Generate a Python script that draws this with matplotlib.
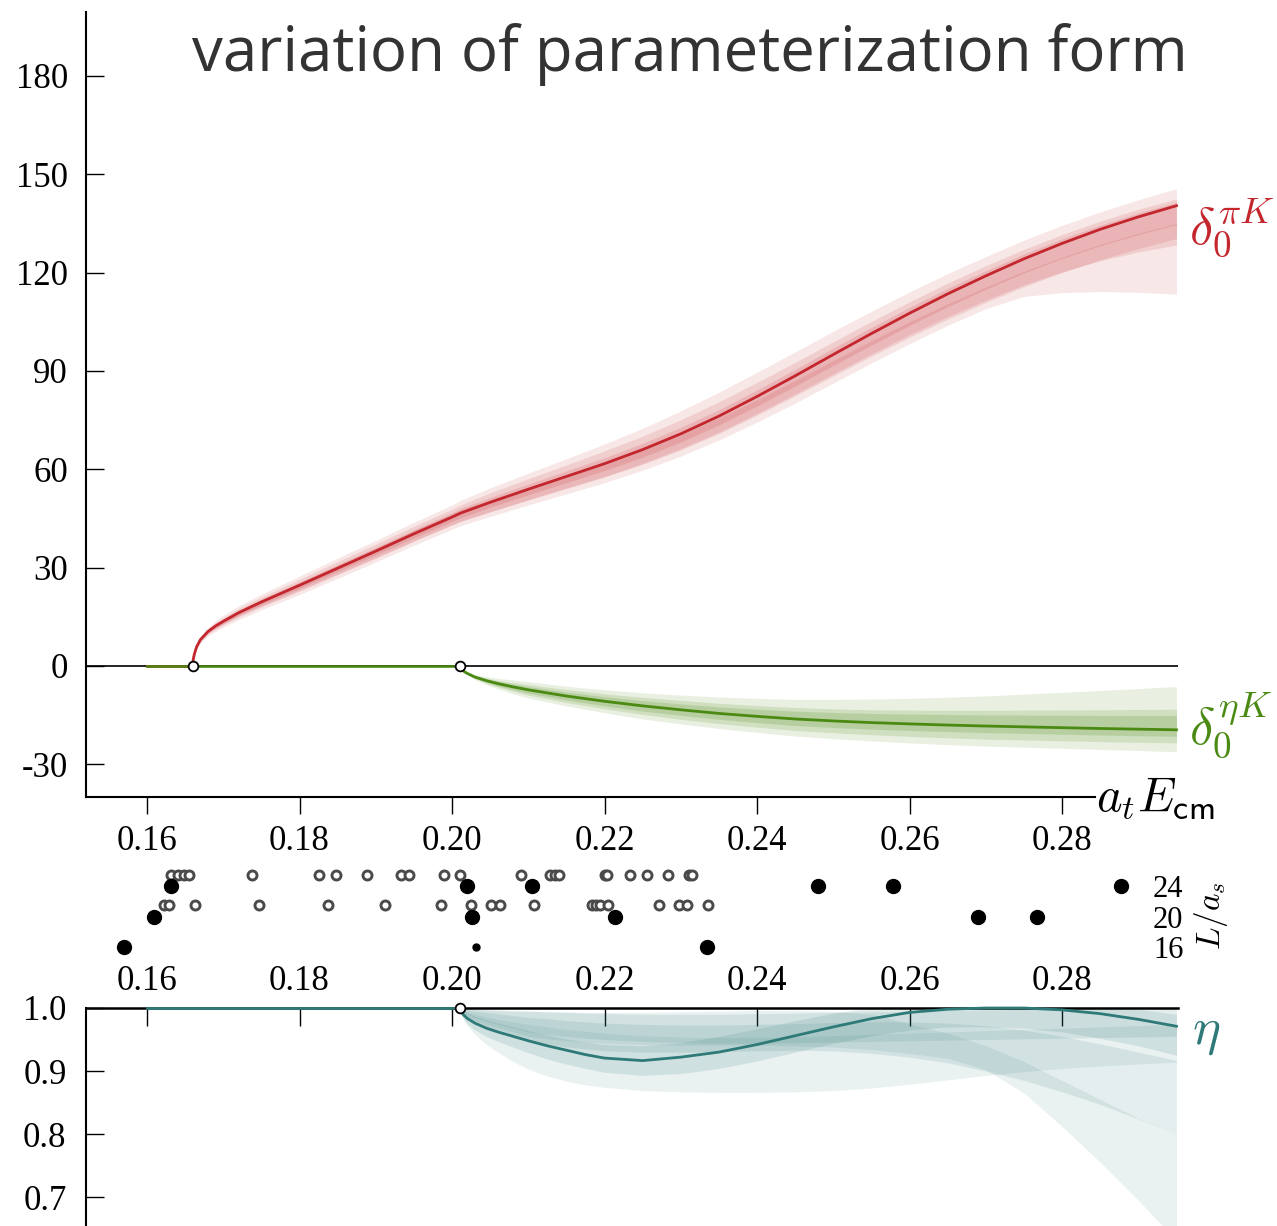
import numpy as np
import matplotlib
matplotlib.use("Agg")
import matplotlib.pyplot as plt
from matplotlib.ticker import FixedLocator, FuncFormatter

plt.rcParams["mathtext.fontset"] = "cm"
plt.rcParams["axes.unicode_minus"] = False

# ---------------- data ----------------
X_TICKS = [0.16, 0.18, 0.20, 0.22, 0.24, 0.26, 0.28]
Y_TICKS_TOP = [-30, 0, 30, 60, 90, 120, 150, 180]
Y_TICKS_ETA = [0.7, 0.8, 0.9, 1.0]
L_TICKS = [16, 20, 24]

X_START = 0.16
PIK_THRESHOLD = 0.1660
ETAK_THRESHOLD = 0.2011

# delta_0^{piK}: central curve and band offsets (lower, upper) for four parameterizations
PIK_X = [0.1660, 0.16605, 0.1662, 0.1665, 0.167, 0.168, 0.169, 0.170, 0.172, 0.175, 0.180,
         0.185, 0.19, 0.195, 0.2, 0.2011, 0.205, 0.21, 0.215, 0.22, 0.225, 0.23, 0.235,
         0.24, 0.245, 0.25, 0.255, 0.26, 0.265, 0.27, 0.275, 0.28, 0.285, 0.29, 0.295]
PIK_MID = [0, 1.8, 3.5, 5.8, 8, 10.5, 12.2, 13.6, 16.2, 19.5, 24.6,
           29.8, 35.0, 40.3, 45.4, 46.6, 49.9, 53.9, 57.8, 61.7, 66.0, 70.8, 76.2,
           82.2, 88.5, 95.0, 101.4, 107.6, 113.5, 119.0, 124.2, 128.9, 133.2, 137.0, 140.4]
PIK_B1_LO = [0, -0.3, -0.5, -0.8, -1, -1.3, -1.6, -1.8, -2.1, -2.4, -2.8, -3.1, -3.3, -3.5, -3.7,
             -3.8, -4.3, -4.8, -5.3, -5.8, -6.3, -6.8, -7.3, -7.8, -8.3, -8.7, -9, -9.3, -9.6, -10,
             -11.5, -15, -19, -23, -27]
PIK_B1_HI = [0, 0.3, 0.5, 0.8, 1, 1.3, 1.6, 1.8, 2.1, 2.4, 2.8, 3.1, 3.3, 3.5, 3.7,
             3.9, 4.4, 4.9, 5.4, 6, 6.5, 7, 7.3, 7.4, 7.3, 7.1, 6.8, 6.5, 6.2, 5.9,
             5.7, 5.5, 5.3, 5.2, 5.2]
PIK_B2_LO = [0, -0.2, -0.3, -0.5, -0.6, -0.8, -1, -1.1, -1.3, -1.5, -1.8, -2, -2.2, -2.3, -2.4,
             -2.5, -2.9, -3.2, -3.5, -3.9, -4.2, -4.5, -4.9, -5.2, -5.5, -5.9, -6.2, -6.5, -6.9, -7.4,
             -7.9, -8.7, -9.6, -10.7, -12]
PIK_B2_HI = [0, 0.2, 0.3, 0.5, 0.6, 0.8, 1, 1.1, 1.3, 1.5, 1.8, 2, 2.2, 2.3, 2.4,
             2.5, 2.9, 3.2, 3.5, 3.9, 4.1, 4.3, 4.4, 4.3, 4.1, 3.9, 3.7, 3.5, 3.3, 3.1,
             2.9, 2.7, 2.5, 2.3, 2.1]
PIK_B3_LO = [0, -0.1, -0.2, -0.3, -0.4, -0.6, -0.7, -0.8, -1, -1.2, -1.5, -1.7, -1.9, -2.1, -2.3,
             -2.5, -2.9, -3.3, -3.7, -4.1, -4.5, -4.9, -5.3, -5.7, -6.1, -6.5, -6.9, -7.3, -7.7, -8.1,
             -8.5, -8.9, -9.3, -9.7, -10]
PIK_B3_HI = [0, 0.1, 0.2, 0.3, 0.4, 0.5, 0.6, 0.6, 0.7, 0.8, 0.9, 1, 1, 1, 1,
             1, 0.8, 0.6, 0.4, 0.2, 0, -0.3, -0.6, -1, -1.4, -1.8, -2.2, -2.6, -3, -3.4,
             -3.8, -4.2, -4.6, -5, -5.4]
PIK_B4_LO = [0, -0.1, -0.15, -0.2, -0.3, -0.4, -0.5, -0.6, -0.7, -0.8, -0.9, -1, -1.1, -1.2, -1.3,
             -1.4, -1.5, -1.7, -1.9, -2.1, -2.3, -2.5, -2.7, -2.9, -3.1, -3.3, -3.5, -3.7, -3.9, -4.1,
             -4.3, -4.6, -5, -5.4, -5.8]
PIK_B4_HI = [0, 0.1, 0.15, 0.2, 0.3, 0.4, 0.5, 0.6, 0.7, 0.8, 0.9, 1, 1.1, 1.2, 1.3,
             1.4, 1.5, 1.6, 1.7, 1.8, 1.9, 2, 2, 2, 2, 2, 1.9, 1.8, 1.7, 1.6,
             1.5, 1.4, 1.3, 1.2, 1.1]

# delta_0^{etaK}
ETAK_X = [0.2011, 0.20115, 0.2013, 0.2016, 0.202, 0.203, 0.2045, 0.206, 0.208, 0.21, 0.215,
          0.22, 0.225, 0.23, 0.235, 0.24, 0.245, 0.25, 0.255, 0.26, 0.265, 0.27, 0.275,
          0.28, 0.285, 0.29, 0.295]
ETAK_MID = [0, -0.55, -1.1, -1.75, -2.3, -3.4, -4.5, -5.4, -6.4, -7.3, -9.2,
            -10.8, -12.2, -13.4, -14.5, -15.4, -16.2, -16.8, -17.3, -17.7, -18.05, -18.35, -18.6,
            -18.85, -19.1, -19.3, -19.5]
ETAK_B1_LO = [0, -0.1, -0.2, -0.3, -0.5, -0.8, -1.2, -1.6, -2.1, -2.5, -3, -3.5, -4, -4.3,
              -4.6, -4.9, -5.2, -5.4, -5.6, -5.8, -6, -6.1, -6.2, -6.3, -6.4, -6.5, -6.7]
ETAK_B1_HI = [0, 0.1, 0.2, 0.3, 0.5, 0.8, 1.2, 1.6, 2.1, 2.5, 3, 3.5, 4, 4.5,
              5, 5.5, 6, 6.6, 7.2, 7.8, 8.5, 9.2, 10, 10.8, 11.6, 12.4, 13.2]
ETAK_B2_LO = [0, -0.05, -0.1, -0.2, -0.3, -0.5, -0.8, -1.0, -1.3, -1.6, -2, -2.3, -2.6, -2.9,
              -3.1, -3.3, -3.5, -3.6, -3.7, -3.8, -3.9, -4, -4, -4, -4, -4, -4]
ETAK_B2_HI = [0, 0.05, 0.1, 0.2, 0.3, 0.5, 0.8, 1.0, 1.3, 1.6, 2, 2.3, 2.6, 2.9,
              3.1, 3.3, 3.5, 3.7, 3.9, 4.2, 4.5, 4.8, 5.1, 5.4, 5.7, 6, 6.3]
ETAK_B3_LO = [0, -0.03, -0.06, -0.1, -0.15, -0.3, -0.5, -0.7, -0.85, -1, -1.2, -1.4, -1.6, -1.7,
              -1.8, -1.9, -2, -2, -2, -2, -2, -2, -2, -2, -2, -2, -2]
ETAK_B3_HI = [0, 0.03, 0.06, 0.1, 0.15, 0.3, 0.5, 0.7, 0.85, 1, 1.2, 1.4, 1.6, 1.8,
              2, 2.2, 2.4, 2.6, 2.8, 3, 3.2, 3.4, 3.6, 3.8, 4, 4.2, 4.4]

# inelasticity eta: central curve and absolute bands
ETA_X = [0.2011, 0.20115, 0.2013, 0.2016, 0.202, 0.203, 0.2045, 0.206, 0.208, 0.21, 0.2125,
         0.215, 0.2175, 0.22, 0.225, 0.23, 0.235, 0.24, 0.245, 0.25, 0.255, 0.26, 0.265,
         0.27, 0.275, 0.28, 0.285, 0.29, 0.295]
ETA_MID = [1.0, 0.996, 0.992, 0.988, 0.9835, 0.976, 0.968, 0.962, 0.955, 0.948, 0.940,
           0.933, 0.926, 0.9205, 0.9165, 0.922, 0.930, 0.942, 0.956, 0.970, 0.983, 0.993, 0.998,
           1.0, 1.0, 0.997, 0.991, 0.982, 0.971]
ETA_BA_LO = [1.0, 0.994, 0.988, 0.98, 0.972, 0.958, 0.942, 0.93, 0.915, 0.903, 0.892,
             0.884, 0.878, 0.874, 0.869, 0.867, 0.866, 0.866, 0.867, 0.869, 0.873, 0.879, 0.886,
             0.893, 0.899, 0.904, 0.908, 0.911, 0.914]
ETA_BA_HI = [1.0, 0.999, 0.998, 0.996, 0.994, 0.99, 0.986, 0.982, 0.978, 0.974, 0.97,
             0.966, 0.963, 0.96, 0.956, 0.954, 0.953, 0.953, 0.954, 0.956, 0.958, 0.96, 0.962,
             0.964, 0.966, 0.968, 0.97, 0.972, 0.974]
ETA_BB_LO = [1.0, 0.993, 0.987, 0.981, 0.975, 0.965, 0.955, 0.947, 0.938, 0.929, 0.919,
             0.911, 0.904, 0.898, 0.893, 0.896, 0.904, 0.916, 0.930, 0.944, 0.956, 0.965, 0.970,
             0.970, 0.968, 0.962, 0.952, 0.940, 0.925]
ETA_BB_HI = [1.0, 0.999, 0.997, 0.995, 0.992, 0.987, 0.981, 0.976, 0.970, 0.964, 0.957,
             0.951, 0.946, 0.942, 0.940, 0.945, 0.955, 0.967, 0.980, 0.992, 1.0, 1.0, 1.0,
             1.0, 1.0, 1.0, 1.0, 0.998, 0.99]
ETA_BC_LO = [1.0, 0.998, 0.996, 0.993, 0.99, 0.985, 0.979, 0.974, 0.968, 0.962, 0.958,
             0.955, 0.952, 0.950, 0.947, 0.945, 0.944, 0.944, 0.945, 0.946, 0.947, 0.948, 0.949,
             0.950, 0.951, 0.952, 0.953, 0.954, 0.955]
ETA_BC_HI = [1.0, 1.0, 0.999, 0.999, 0.998, 0.998, 0.997, 0.996, 0.995, 0.995, 0.994,
             0.993, 0.992, 0.991, 0.990, 0.990, 0.990, 0.991, 0.992, 0.993, 0.994, 0.995, 0.996,
             0.997, 0.998, 0.999, 1.0, 1.0, 1.0]
ETA_BD_LO = [1.0, 0.997, 0.993, 0.988, 0.983, 0.975, 0.968, 0.962, 0.955, 0.948, 0.943,
             0.938, 0.935, 0.932, 0.93, 0.93, 0.931, 0.932, 0.933, 0.932, 0.928, 0.922, 0.913,
             0.900, 0.885, 0.867, 0.847, 0.824, 0.80]
ETA_BD_HI = [1.0, 1.0, 0.999, 0.998, 0.997, 0.995, 0.993, 0.991, 0.988, 0.985, 0.983,
             0.98, 0.978, 0.976, 0.974, 0.973, 0.973, 0.974, 0.975, 0.977, 0.978, 0.978, 0.976,
             0.972, 0.965, 0.955, 0.943, 0.930, 0.917]
ETA_BE_LO = [1.0, 0.997, 0.994, 0.99, 0.986, 0.98, 0.974, 0.969, 0.962, 0.955, 0.951,
             0.948, 0.946, 0.944, 0.942, 0.941, 0.941, 0.941, 0.940, 0.938, 0.934, 0.928, 0.920,
             0.902, 0.865, 0.812, 0.755, 0.695, 0.63]
ETA_BE_HI = [1.0, 1.0, 1.0, 0.999, 0.999, 0.998, 0.997, 0.997, 0.996, 0.995, 0.994,
             0.994, 0.993, 0.993, 0.993, 0.994, 0.995, 0.996, 0.996, 0.995, 0.99, 0.975, 0.96,
             0.94, 0.915, 0.885, 0.855, 0.825, 0.80]

# finite-volume spectrum (a_t E_cm) per volume L/a_s
LEVELS_24 = [0.16315, 0.20197, 0.21049, 0.2480, 0.25784, 0.28774]
LEVELS_20 = [0.16092, 0.20262, 0.22138, 0.26898, 0.27672]
LEVELS_16 = [0.15698, 0.23344]
LEVELS_16_MINOR = [0.20315]
NONINT_24 = [0.16312, 0.16405, 0.16481, 0.16557, 0.17373, 0.18260, 0.18477, 0.18884,
             0.19330, 0.19433, 0.19890, 0.20108, 0.20908, 0.21288, 0.21353, 0.21407,
             0.22005, 0.22038, 0.22337, 0.22555, 0.22838, 0.23107, 0.23148]
NONINT_20 = [0.16220, 0.16286, 0.16628, 0.17465, 0.18369, 0.19124, 0.19858, 0.20244,
             0.20510, 0.20635, 0.21070, 0.21832, 0.21889, 0.21941, 0.22050, 0.22712,
             0.22973, 0.23078, 0.23357]

TITLE = "variation of parameterization form"

# ---------------- styling ----------------
RED = "#c4262d"
GREEN = "#4a8a12"
TEAL = "#2e7a78"
W, H = 1277, 1226
XLIM = (0.152, 0.2952)
serif = ["Liberation Serif", "DejaVu Serif"]
TICK_FS = 25

fig = plt.figure(figsize=(W / 100, H / 100), dpi=100)

def fx(px):
    return px / W

def fy(py):
    return 1 - py / H

ax_top = fig.add_axes([fx(86), fy(797), fx(1178) - fx(86), fy(12) - fy(797)])
ax_mid = fig.add_axes([fx(86), fy(960), fx(1178) - fx(86), fy(860) - fy(960)])
ax_bot = fig.add_axes([fx(86), 0, fx(1178) - fx(86), fy(1008)])

fmt2 = FuncFormatter(lambda v, p: "%.2f" % v)

# ---- top panel ----
ax = ax_top
ax.set_xlim(*XLIM)
ax.set_ylim(-40, 199.5)
ax.axhline(0, color="black", lw=1.2, zorder=1)

px = np.array(PIK_X)
pm = np.array(PIK_MID)
for lo, hi, a in [(PIK_B1_LO, PIK_B1_HI, 0.11), (PIK_B2_LO, PIK_B2_HI, 0.13),
                  (PIK_B3_LO, PIK_B3_HI, 0.13), (PIK_B4_LO, PIK_B4_HI, 0.15)]:
    ax.fill_between(px, pm + np.array(lo), pm + np.array(hi), color=RED, alpha=a, lw=0, zorder=2)
gx = np.array(ETAK_X)
gm = np.array(ETAK_MID)
for lo, hi, a in [(ETAK_B1_LO, ETAK_B1_HI, 0.12), (ETAK_B2_LO, ETAK_B2_HI, 0.16),
                  (ETAK_B3_LO, ETAK_B3_HI, 0.18)]:
    ax.fill_between(gx, gm + np.array(lo), gm + np.array(hi), color=GREEN, alpha=a, lw=0, zorder=2)

ax.plot([X_START, PIK_THRESHOLD], [0, 0], color=RED, lw=2.0, zorder=3)
ax.plot(px, pm, color=RED, lw=2.0, zorder=3, solid_joinstyle="round")
ax.plot([X_START, ETAK_THRESHOLD], [0, 0], color=GREEN, lw=2.0, alpha=0.9, zorder=3)
ax.plot(gx, gm, color=GREEN, lw=2.0, zorder=3, solid_joinstyle="round")
ax.plot([PIK_THRESHOLD, ETAK_THRESHOLD], [0, 0], "o", ms=7, mfc="white", mec="black",
        mew=1.3, zorder=5)

for s in ["top", "right"]:
    ax.spines[s].set_visible(False)
ax.spines["left"].set_linewidth(1.5)
ax.spines["bottom"].set_linewidth(1.5)
ax.spines["bottom"].set_bounds(XLIM[0], 0.2843)
ax.xaxis.set_major_locator(FixedLocator(X_TICKS))
ax.xaxis.set_major_formatter(fmt2)
ax.yaxis.set_major_locator(FixedLocator(Y_TICKS_TOP))
ax.yaxis.set_major_formatter(FuncFormatter(lambda v, p: "%d" % v))
ax.tick_params(axis="x", direction="out", length=12, width=1.0, pad=8, labelsize=TICK_FS)
ax.tick_params(axis="y", direction="in", length=13, width=1.0, pad=13, labelsize=TICK_FS)
for t in ax.get_xticklabels() + ax.get_yticklabels():
    t.set_fontfamily(serif)
ax.patch.set_alpha(0)

ax.text(0.2845, -40, r"$a_t E_{\mathsf{cm}}$", fontsize=35, ha="left", va="center")
ax.text(0.2966, 133.5, r"$\delta_0^{\pi K}$", color=RED, fontsize=38, ha="left", va="center",
        clip_on=False)
ax.text(0.2966, -18, r"$\delta_0^{\eta K}$", color=GREEN, fontsize=38, ha="left", va="center",
        clip_on=False)

# ---- middle panel: spectrum ----
ax = ax_mid
ax.set_xlim(*XLIM)
ax.set_ylim(14.295, 27.41)
for s in ax.spines.values():
    s.set_visible(False)
ax.set_xticks([])
RING_SHIFT = 1.45
ring_style = dict(ls="none", marker="o", ms=6.5, mfc="white", mec="#4a4a4a", mew=2.1)
ax.plot(NONINT_24, [24 + RING_SHIFT] * len(NONINT_24), **ring_style)
ax.plot(NONINT_20, [20 + RING_SHIFT] * len(NONINT_20), **ring_style)
dot_style = dict(ls="none", marker="o", ms=10, color="black")
ax.plot(LEVELS_24, [24] * len(LEVELS_24), **dot_style)
ax.plot(LEVELS_20, [20] * len(LEVELS_20), **dot_style)
ax.plot(LEVELS_16, [16] * len(LEVELS_16), **dot_style)
ax.plot(LEVELS_16_MINOR, [16] * len(LEVELS_16_MINOR), ls="none", marker="o", ms=5, color="black")
ax.yaxis.tick_right()
ax.yaxis.set_major_locator(FixedLocator(L_TICKS))
ax.tick_params(axis="y", length=0, pad=-18, labelsize=22)
for t in ax.get_yticklabels():
    t.set_fontfamily(serif)
ax.patch.set_alpha(0)
fig.text(fx(1211), fy(916), r"$L/a_s$", rotation=90, fontsize=24, ha="center", va="center")

# ---- bottom panel: eta ----
ax = ax_bot
ax.set_xlim(*XLIM)
ax.set_ylim(0.654, 1.0)
ex = np.array(ETA_X)
for lo, hi, a in [(ETA_BA_LO, ETA_BA_HI, 0.10), (ETA_BB_LO, ETA_BB_HI, 0.14),
                  (ETA_BC_LO, ETA_BC_HI, 0.12), (ETA_BD_LO, ETA_BD_HI, 0.12),
                  (ETA_BE_LO, ETA_BE_HI, 0.10)]:
    ax.fill_between(ex, lo, hi, color=TEAL, alpha=a, lw=0, zorder=2)
ax.plot([X_START, ETAK_THRESHOLD], [1.0, 1.0], color=TEAL, lw=2.0, zorder=3, clip_on=False)
ax.plot(ex, ETA_MID, color=TEAL, lw=2.0, zorder=3, clip_on=False, solid_joinstyle="round")
ax.plot([ETAK_THRESHOLD], [1.0], "o", ms=7, mfc="white", mec="black", mew=1.3, zorder=6,
        clip_on=False)
for s in ["bottom", "right"]:
    ax.spines[s].set_visible(False)
ax.spines["left"].set_linewidth(1.5)
ax.spines["top"].set_linewidth(1.8)
ax.xaxis.tick_top()
ax.xaxis.set_major_locator(FixedLocator(X_TICKS))
ax.xaxis.set_major_formatter(fmt2)
ax.yaxis.set_major_locator(FixedLocator(Y_TICKS_ETA))
ax.yaxis.set_major_formatter(FuncFormatter(lambda v, p: "%.1f" % v))
ax.tick_params(axis="x", direction="in", length=13, width=1.0, pad=7, labelsize=TICK_FS)
ax.tick_params(axis="y", direction="in", length=13, width=1.0, pad=14, labelsize=TICK_FS)
for t in ax.get_xticklabels() + ax.get_yticklabels():
    t.set_fontfamily(serif)
ax.patch.set_alpha(0)
ax.text(0.2970, 0.963, r"$\eta$", color=TEAL, fontsize=38, ha="left", va="center", clip_on=False)

fig.text(fx(690), fy(54), TITLE, ha="center", va="center", fontsize=44.5, color="#333333",
         family="Open Sans")

fig.savefig("out.png", dpi=100)
